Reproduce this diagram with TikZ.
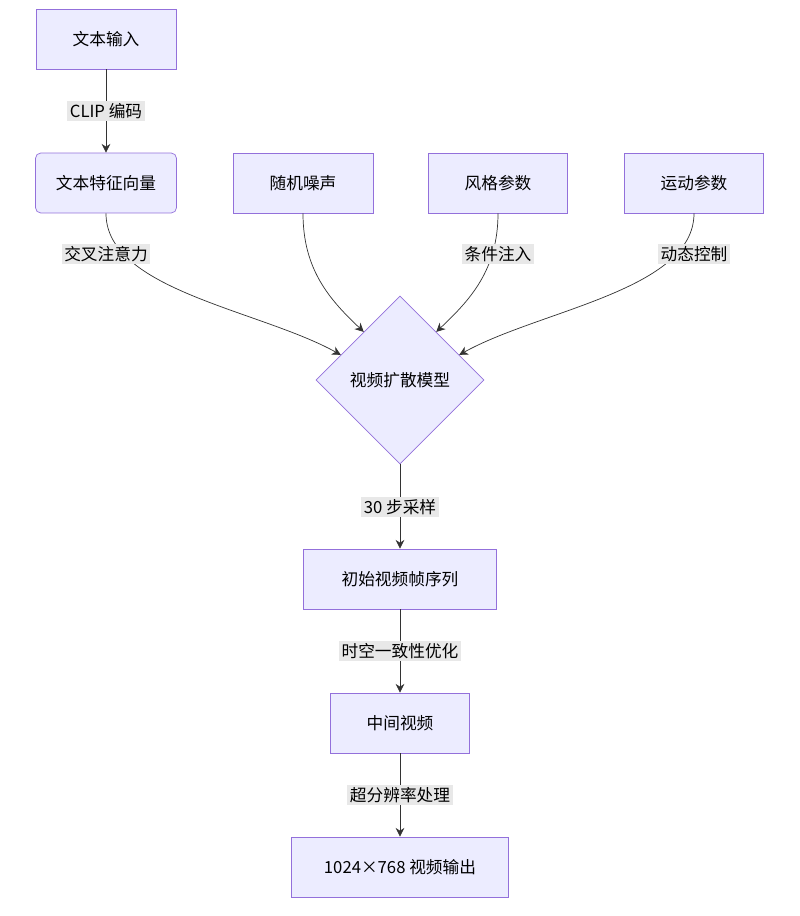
\documentclass[tikz,border=0pt]{standalone}
\usepackage{fontspec}
\setmainfont{Noto Sans CJK SC}
\usetikzlibrary{shapes.geometric,arrows.meta}
\definecolor{boxfill}{HTML}{ECECFF}
\definecolor{boxline}{HTML}{9370DB}
\definecolor{lblfill}{HTML}{E8E8E8}
\begin{document}
\begin{tikzpicture}[x=0.02cm,y=-0.02cm,
  box/.style = {draw = boxline, fill = boxfill, shape = rectangle, minimum height = 1.2cm, font = \fontsize{9.5}{11}\selectfont},
  lbl/.style = {fill = lblfill, inner sep = 1.5pt, font = \fontsize{9.5}{11}\selectfont},
  link/.style = {draw = black!80, -{Stealth[length=5pt,width=5pt]}}]
\useasboundingbox (0,0) rectangle (800,916);
\node[box, minimum width = 2.8cm] (input) at (106,39) {文本输入};
\node[box, minimum width = 2.82cm, rounded corners = 3pt] (feat) at (106,183) {文本特征向量};
\node[box, minimum width = 2.8cm] (noise) at (303,183) {随机噪声};
\node[box, minimum width = 2.78cm] (style) at (498,183) {风格参数};
\node[box, minimum width = 2.78cm] (motion) at (694,183) {运动参数};
\node[draw = boxline, fill = boxfill, shape = diamond, minimum width = 3.36cm, minimum height = 3.36cm, inner sep = 0pt, font = \fontsize{9.5}{11}\selectfont] (model) at (400,380) {视频扩散模型};
\node[box, minimum width = 3.86cm] (frames) at (400,579) {初始视频帧序列};
\node[box, minimum width = 2.78cm] (mid) at (400,723) {中间视频};
\node[box, minimum width = 4.34cm] (out) at (400,867) {1024×768 视频输出};
% edges
\draw[link] (input) -- (feat);
\draw[link] (feat.south) .. controls (106,290) and (260,310) .. (model.157);
\draw[link] (noise.south) .. controls (303,270) and (330,300) .. (model.127);
\draw[link] (style.south) .. controls (498,270) and (470,300) .. (model.53);
\draw[link] (motion.south) .. controls (694,290) and (540,310) .. (model.23);
\draw[link] (model) -- (frames);
\draw[link] (frames) -- (mid);
\draw[link] (mid) -- (out);
% labels
\node[lbl] (l1) at (106,111) {CLIP 编码};
\node[lbl] (l2) at (106,254) {交叉注意力};
\node[lbl] (l3) at (498,254) {条件注入};
\node[lbl] (l4) at (694,254) {动态控制};
\node[lbl] (l5) at (400,507) {30 步采样};
\node[lbl] (l6) at (400,651) {时空一致性优化};
\node[lbl] (l7) at (400,795) {超分辨率处理};
\end{tikzpicture}
\end{document}
